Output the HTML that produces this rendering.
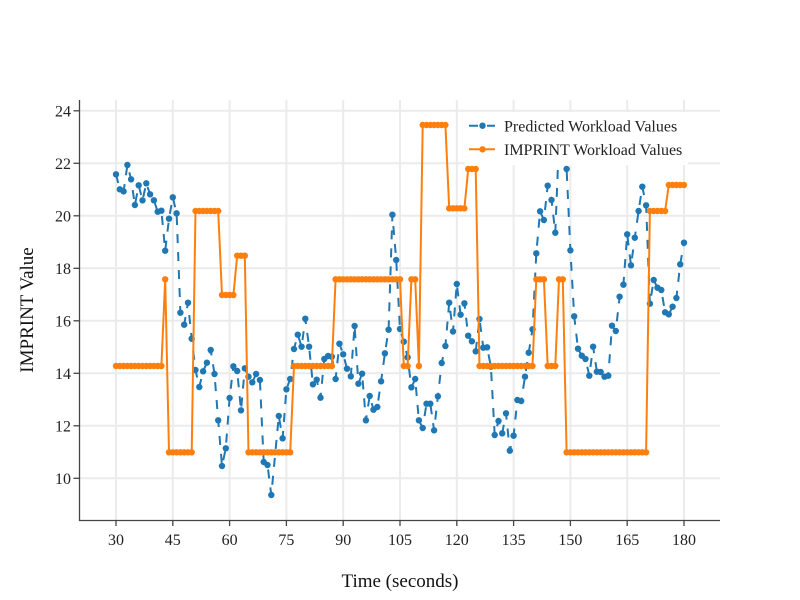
<!DOCTYPE html>
<html>
<head>
<meta charset="utf-8">
<style>
html,body{margin:0;padding:0;background:#fff;}
svg{display:block;}
text{font-family:"Liberation Serif","Times New Roman",serif;}
</style>
</head>
<body>
<svg width="800" height="600" viewBox="0 0 800 600" xmlns="http://www.w3.org/2000/svg">
<defs>
<marker id="mb" markerUnits="userSpaceOnUse" markerWidth="8" markerHeight="8" refX="4" refY="4" viewBox="0 0 8 8" overflow="visible">
<circle cx="4" cy="4" r="3.2" fill="#1f77b4"/>
</marker>
<marker id="mo" markerUnits="userSpaceOnUse" markerWidth="8" markerHeight="8" refX="4" refY="4" viewBox="0 0 8 8" overflow="visible">
<circle cx="4" cy="4" r="3.2" fill="#ff7f0e"/>
</marker>
</defs>
<rect width="800" height="600" fill="#fff"/>
<!-- gridlines -->
<g stroke="#ebebeb" stroke-width="2">
<line x1="116" y1="100" x2="116" y2="520"/>
<line x1="172.8" y1="100" x2="172.8" y2="520"/>
<line x1="229.6" y1="100" x2="229.6" y2="520"/>
<line x1="286.4" y1="100" x2="286.4" y2="520"/>
<line x1="343.2" y1="100" x2="343.2" y2="520"/>
<line x1="400" y1="100" x2="400" y2="520"/>
<line x1="456.8" y1="100" x2="456.8" y2="520"/>
<line x1="513.6" y1="100" x2="513.6" y2="520"/>
<line x1="570.4" y1="100" x2="570.4" y2="520"/>
<line x1="627.2" y1="100" x2="627.2" y2="520"/>
<line x1="684" y1="100" x2="684" y2="520"/>
<line x1="80" y1="478.3" x2="720" y2="478.3"/>
<line x1="80" y1="425.8" x2="720" y2="425.8"/>
<line x1="80" y1="373.3" x2="720" y2="373.3"/>
<line x1="80" y1="320.8" x2="720" y2="320.8"/>
<line x1="80" y1="268.3" x2="720" y2="268.3"/>
<line x1="80" y1="215.8" x2="720" y2="215.8"/>
<line x1="80" y1="163.3" x2="720" y2="163.3"/>
<line x1="80" y1="110.8" x2="720" y2="110.8"/>
</g>
<!-- blue series -->
<polyline fill="none" stroke="#1f77b4" stroke-width="2" stroke-dasharray="9,9" marker-start="url(#mb)" marker-mid="url(#mb)" marker-end="url(#mb)" points="116.0,174.3 119.8,189.3 123.6,191.3 127.4,165 131.1,179.3 134.9,205 138.7,185.3 142.5,200.3 146.3,183.3 150.1,194.3 153.9,200.3 157.7,211.7 161.4,210.7 165.2,250.7 169.0,218.7 172.8,197.3 176.6,213.3 180.4,312.7 184.2,324.7 188.0,302.7 191.7,338.7 195.5,370 199.3,387 203.1,371.3 206.9,362.7 210.7,350 214.5,374 218.2,420.3 222.0,466 225.8,448.3 229.6,398 233.4,366.3 237.2,371 241.0,410.3 244.8,368.3 248.5,376.7 252.3,382.3 256.1,374 259.9,380 263.7,462 267.5,465 271.3,495 278.8,416 282.6,438.3 286.4,389.3 290.2,379 294.0,349 297.8,334.7 301.6,346.7 305.3,318.7 309.1,346.7 312.9,384.3 316.7,379.7 320.5,397.7 324.3,359 328.1,356 331.8,356.7 335.6,379 339.4,343.7 343.2,354.3 347.0,368.7 350.8,376.3 354.6,326 358.4,383.7 362.1,373.7 365.9,420.3 369.7,396 373.5,409.7 377.3,407 381.1,381.3 384.9,353.3 388.6,329.7 392.4,214.7 396.2,260 400.0,329 403.8,341.7 407.6,357.3 411.4,387.3 415.2,379 418.9,420.3 422.7,428 426.5,403.7 430.3,403.7 434.1,430.3 437.9,396.3 441.7,363 445.4,346 449.2,302.7 453.0,331.5 456.8,284 460.6,314.7 464.4,303.3 468.2,335.7 471.9,341.3 475.7,351.3 479.5,319 483.3,347.7 487.1,347.3 490.9,366.7 494.7,435 498.5,421 502.2,433.3 506.0,413.3 509.8,450.7 513.6,435.7 517.4,400 521.2,401 525.0,376.7 528.7,352.7 532.5,329.3 536.3,253.3 540.1,211.3 543.9,220 547.7,185.7 551.5,200 555.3,232.7 559.0,140 562.8,150 566.6,169 570.4,250.3 574.2,316.3 578.0,348.7 581.8,355.7 585.5,359 589.3,375.7 593.1,346.7 596.9,371.7 600.7,372 604.5,376.7 608.3,375.7 612.0,325.7 615.8,331 619.6,296.7 623.4,284.7 627.2,234.3 631.0,265.3 634.8,237.7 638.6,211 642.3,186.7 646.1,205.3 649.9,303.7 653.7,280 657.5,287.7 661.3,290 665.1,312.3 668.8,314.3 672.6,306.7 676.4,298 680.2,264.3 684.0,242.7"/>
<!-- orange series -->
<polyline fill="none" stroke="#ff7f0e" stroke-width="2" stroke-linejoin="round" marker-start="url(#mo)" marker-mid="url(#mo)" marker-end="url(#mo)" points="116.0,366 119.8,366 123.6,366 127.4,366 131.1,366 134.9,366 138.7,366 142.5,366 146.3,366 150.1,366 153.9,366 157.7,366 161.4,366 165.2,279.3 169.0,452.3 172.8,452.3 176.6,452.3 180.4,452.3 184.2,452.3 188.0,452.3 191.7,452.3 195.5,211 199.3,211 203.1,211 206.9,211 210.7,211 214.5,211 218.2,211 222.0,295 225.8,295 229.6,295 233.4,295 237.2,255.7 241.0,255.7 244.8,255.7 248.5,452.3 252.3,452.3 256.1,452.3 259.9,452.3 263.7,452.3 267.5,452.3 271.3,452.3 275.1,452.3 278.8,452.3 282.6,452.3 286.4,452.3 290.2,452.3 294.0,366 297.8,366 301.6,366 305.3,366 309.1,366 312.9,366 316.7,366 320.5,366 324.3,366 328.1,366 331.8,366 335.6,279.3 339.4,279.3 343.2,279.3 347.0,279.3 350.8,279.3 354.6,279.3 358.4,279.3 362.1,279.3 365.9,279.3 369.7,279.3 373.5,279.3 377.3,279.3 381.1,279.3 384.9,279.3 388.6,279.3 392.4,279.3 396.2,279.3 400.0,279.3 403.8,366 407.6,366 411.4,279.3 415.2,279.3 418.9,366 422.7,125 426.5,125 430.3,125 434.1,125 437.9,125 441.7,125 445.4,125 449.2,208.3 453.0,208.3 456.8,208.3 460.6,208.3 464.4,208.3 468.2,169 471.9,169 475.7,169 479.5,366 483.3,366 487.1,366 490.9,366 494.7,366 498.5,366 502.2,366 506.0,366 509.8,366 513.6,366 517.4,366 521.2,366 525.0,366 528.7,366 532.5,366 536.3,279.3 540.1,279.3 543.9,279.3 547.7,366 551.5,366 555.3,366 559.0,279.3 562.8,279.3 566.6,452.3 570.4,452.3 574.2,452.3 578.0,452.3 581.8,452.3 585.5,452.3 589.3,452.3 593.1,452.3 596.9,452.3 600.7,452.3 604.5,452.3 608.3,452.3 612.0,452.3 615.8,452.3 619.6,452.3 623.4,452.3 627.2,452.3 631.0,452.3 634.8,452.3 638.6,452.3 642.3,452.3 646.1,452.3 649.9,211 653.7,211 657.5,211 661.3,211 665.1,211 668.8,185 672.6,185 676.4,185 680.2,185 684.0,185"/>
<!-- axes -->
<g stroke="#444" stroke-width="1.3" fill="none">
<line x1="79.5" y1="100" x2="79.5" y2="521"/>
<line x1="79" y1="520.5" x2="720" y2="520.5"/>
<line x1="116" y1="520" x2="116" y2="526"/>
<line x1="172.8" y1="520" x2="172.8" y2="526"/>
<line x1="229.6" y1="520" x2="229.6" y2="526"/>
<line x1="286.4" y1="520" x2="286.4" y2="526"/>
<line x1="343.2" y1="520" x2="343.2" y2="526"/>
<line x1="400" y1="520" x2="400" y2="526"/>
<line x1="456.8" y1="520" x2="456.8" y2="526"/>
<line x1="513.6" y1="520" x2="513.6" y2="526"/>
<line x1="570.4" y1="520" x2="570.4" y2="526"/>
<line x1="627.2" y1="520" x2="627.2" y2="526"/>
<line x1="684" y1="520" x2="684" y2="526"/>
<line x1="73.5" y1="478.3" x2="79.5" y2="478.3"/>
<line x1="73.5" y1="425.8" x2="79.5" y2="425.8"/>
<line x1="73.5" y1="373.3" x2="79.5" y2="373.3"/>
<line x1="73.5" y1="320.8" x2="79.5" y2="320.8"/>
<line x1="73.5" y1="268.3" x2="79.5" y2="268.3"/>
<line x1="73.5" y1="215.8" x2="79.5" y2="215.8"/>
<line x1="73.5" y1="163.3" x2="79.5" y2="163.3"/>
<line x1="73.5" y1="110.8" x2="79.5" y2="110.8"/>
</g>
<!-- tick labels -->
<g font-size="16" fill="#222" text-anchor="middle">
<text x="116" y="545">30</text>
<text x="172.8" y="545">45</text>
<text x="229.6" y="545">60</text>
<text x="286.4" y="545">75</text>
<text x="343.2" y="545">90</text>
<text x="400" y="545">105</text>
<text x="456.8" y="545">120</text>
<text x="513.6" y="545">135</text>
<text x="570.4" y="545">150</text>
<text x="627.2" y="545">165</text>
<text x="684" y="545">180</text>
</g>
<g font-size="16" fill="#222" text-anchor="end">
<text x="71" y="483.8">10</text>
<text x="71" y="431.3">12</text>
<text x="71" y="378.8">14</text>
<text x="71" y="326.3">16</text>
<text x="71" y="273.8">18</text>
<text x="71" y="221.3">20</text>
<text x="71" y="168.8">22</text>
<text x="71" y="116.3">24</text>
</g>
<!-- axis titles -->
<text x="400" y="587" font-size="19" fill="#111" text-anchor="middle">Time (seconds)</text>
<text transform="translate(33,310) rotate(-90)" font-size="19" fill="#111" text-anchor="middle">IMPRINT Value</text>
<!-- legend -->
<rect x="464" y="112" width="224" height="53" fill="#fff"/>
<line x1="469" y1="125.7" x2="495" y2="125.7" stroke="#1f77b4" stroke-width="2" stroke-dasharray="9,9"/>
<circle cx="482.5" cy="125.7" r="3.2" fill="#1f77b4"/>
<text x="504" y="131.5" font-size="16" fill="#222">Predicted Workload Values</text>
<line x1="469" y1="149.3" x2="495" y2="149.3" stroke="#ff7f0e" stroke-width="2"/>
<circle cx="482.5" cy="149.3" r="3.2" fill="#ff7f0e"/>
<text x="504" y="155" font-size="16" fill="#222">IMPRINT Workload Values</text>
</svg>
</body>
</html>
